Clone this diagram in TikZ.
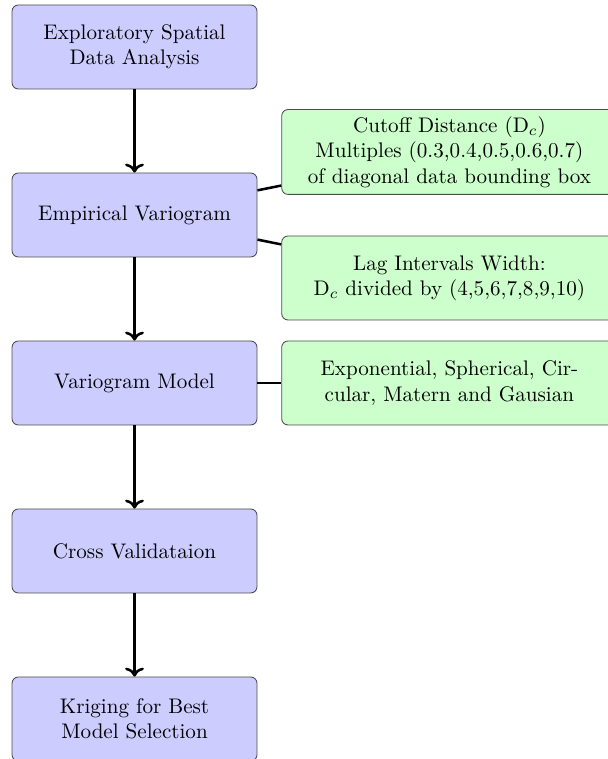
\documentclass[tikz,border=0pt]{standalone}
\usetikzlibrary{arrows.meta}
\tikzset{
  bluebox/.style={draw=black!70, fill=blue!20, rounded corners=3pt, minimum width=4.083cm, minimum height=1.4cm, align=center},
  greenbox/.style={draw=black!70, fill=green!20, rounded corners=3pt, minimum width=5.59cm, minimum height=1.4cm, align=center},
  flow/.style={very thick, ->},
  link/.style={very thick}
}
\begin{document}
\begin{tikzpicture}
\useasboundingbox (0,0) rectangle (10.133,-12.65);
\node[bluebox] (esda) at (2.242,-0.783) {Exploratory Spatial\\Data Analysis};
\node[bluebox] (ev) at (2.242,-3.583) {Empirical Variogram};
\node[bluebox] (vm) at (2.242,-6.383) {Variogram Model};
\node[bluebox] (cv) at (2.242,-9.183) {Cross Validataion};
\node[bluebox] (kr) at (2.242,-11.983) {Kriging for Best\\Model Selection};
\node[greenbox] (cut) at (7.49,-2.533) {Cutoff Distance (D$_c$)\\Multiples (0.3,0.4,0.5,0.6,0.7)\\of diagonal data bounding box};
\node[greenbox] (lag) at (7.49,-4.633) {Lag Intervals Width:\\D$_c$ divided by (4,5,6,7,8,9,10)};
\node[greenbox] (mods) at (7.49,-6.383) {Exponential, Spherical, Cir-\\cular, Matern and Gausian};
\draw[flow] (esda) -- (ev);
\draw[flow] (ev) -- (vm);
\draw[flow] (vm) -- (cv);
\draw[flow] (cv) -- (kr);
\draw[link] (ev) -- (cut);
\draw[link] (ev) -- (lag);
\draw[link] (vm) -- (mods);
\end{tikzpicture}
\end{document}
